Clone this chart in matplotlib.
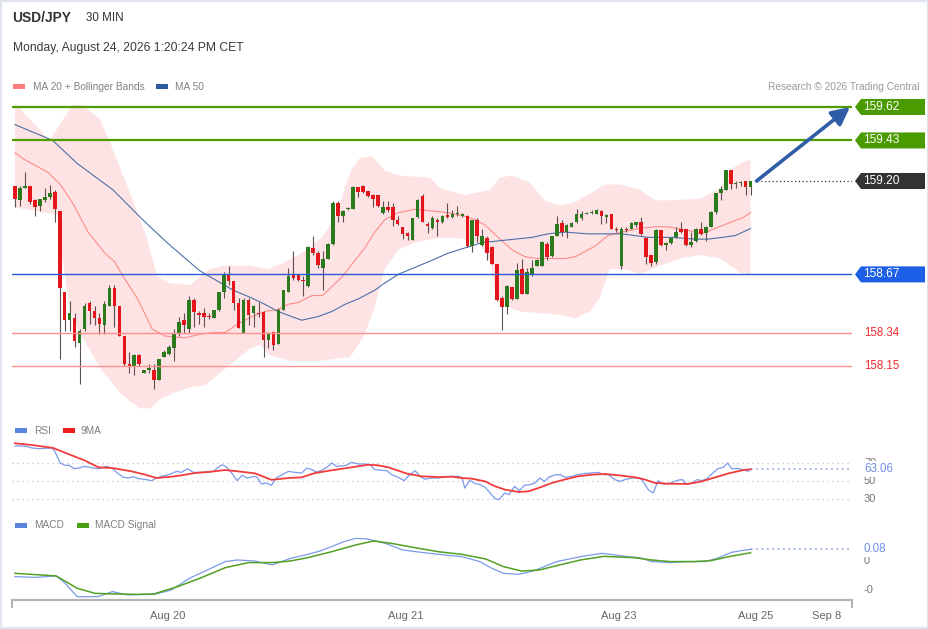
import matplotlib
matplotlib.use("Agg")
import matplotlib.pyplot as plt
from matplotlib.patches import Polygon, Rectangle
import numpy as np

plt.rcParams['font.family'] = ['Liberation Sans', 'DejaVu Sans']

# ---------------- data ----------------
symbol = "USD/JPY"
timeframe = "30 MIN"
timestamp = "Monday, August 24, 2026 1:20:24 PM CET"

opens = [159.17, 159.09, 159.16, 159.17, 159.09, 159.06, 159.09, 159.11, 159.14, 159.03,
         158.57, 158.41, 158.42, 158.28, 158.36, 158.51, 158.46, 158.42, 158.38, 158.49,
         158.59, 158.49, 158.32, 158.16, 158.15, 158.21, 158.11, 158.13, 158.13, 158.07,
         158.20, 158.22, 158.25, 158.34, 158.41, 158.36, 158.525, 158.45, 158.45, 158.435,
         158.425, 158.47, 158.57, 158.675, 158.63, 158.505, 158.34, 158.525, 158.45, 158.45,
         158.455, 158.30, 158.345, 158.275, 158.47, 158.57, 158.665, 158.67, 158.64, 158.605,
         158.82, 158.79, 158.705, 158.76, 158.84, 159.075, 159.00, 159.04, 159.04, 159.165,
         159.17, 159.145, 159.12, 159.12, 159.02, 159.055, 159.05, 158.98, 158.94, 158.905,
         158.865, 158.995, 159.115, 158.955, 158.935, 158.98, 158.965, 159.005, 158.995, 159.01,
         159.00, 159.00, 158.83, 158.98, 158.835, 158.875, 158.825, 158.73, 158.535, 158.485,
         158.60, 158.53, 158.70, 158.56, 158.665, 158.715, 158.72, 158.84, 158.775, 158.89,
         158.96, 158.91, 158.94, 158.97, 158.99, 159.01, 159.02, 159.015, 159.03, 158.995,
         159.01, 158.93, 158.715, 158.93, 158.925, 158.95, 158.97, 158.875, 158.78, 158.74,
         158.92, 158.835, 158.85, 158.88, 158.93, 158.925, 158.835, 158.86, 158.93, 158.905,
         158.94, 159.025, 159.13, 159.15, 159.26, 159.185, 159.19, 159.20, 159.165]
highs = [159.17, 159.17, 159.25, 159.17, 159.10, 159.10, 159.16, 159.18, 159.15, 159.03,
         158.57, 158.52, 158.45, 158.36, 158.51, 158.52, 158.49, 158.45, 158.52, 158.61,
         158.61, 158.49, 158.32, 158.23, 158.22, 158.22, 158.13, 158.16, 158.16, 158.19,
         158.24, 158.27, 158.36, 158.43, 158.45, 158.55, 158.535, 158.46, 158.48, 158.45,
         158.47, 158.57, 158.685, 158.72, 158.63, 158.535, 158.535, 158.535, 158.495, 158.515,
         158.46, 158.345, 158.345, 158.48, 158.58, 158.705, 158.80, 158.675, 158.66, 158.83,
         158.885, 158.80, 158.80, 158.85, 159.085, 159.085, 159.035, 159.05, 159.17, 159.165,
         159.18, 159.145, 159.125, 159.12, 159.085, 159.085, 159.075, 159.00, 158.94, 158.91,
         158.99, 159.095, 159.125, 158.97, 159.00, 158.99, 159.005, 159.075, 159.035, 159.06,
         159.02, 159.005, 158.98, 158.99, 158.925, 158.885, 158.83, 158.73, 158.545, 158.61,
         158.60, 158.735, 158.76, 158.705, 158.75, 158.755, 158.86, 158.855, 158.89, 159.00,
         158.98, 158.955, 158.965, 159.04, 159.03, 159.025, 159.035, 159.04, 159.035, 159.015,
         159.015, 158.94, 158.94, 158.94, 158.965, 158.97, 158.995, 158.875, 158.78, 158.925,
         158.92, 158.855, 158.875, 158.94, 158.97, 158.925, 158.91, 158.935, 158.97, 158.945,
         159.03, 159.13, 159.17, 159.265, 159.265, 159.20, 159.20, 159.20, 159.20]
lows = [159.05, 159.06, 159.16, 159.07, 159.00, 159.03, 159.08, 159.10, 158.97, 158.19,
        158.35, 158.35, 158.26, 158.05, 158.35, 158.39, 158.38, 158.33, 158.33, 158.49,
        158.37, 158.32, 158.15, 158.11, 158.10, 158.15, 158.11, 158.11, 158.02, 158.07,
        158.20, 158.21, 158.18, 158.32, 158.34, 158.34, 158.37, 158.39, 158.37, 158.415,
        158.42, 158.46, 158.535, 158.61, 158.47, 158.365, 158.34, 158.38, 158.37, 158.43,
        158.20, 158.25, 158.24, 158.275, 158.47, 158.57, 158.64, 158.63, 158.545, 158.60,
        158.78, 158.705, 158.58, 158.755, 158.835, 158.97, 158.97, 159.035, 159.04, 159.11,
        159.13, 159.11, 159.055, 159.055, 159.015, 159.025, 158.945, 158.95, 158.87, 158.865,
        158.865, 158.99, 158.97, 158.905, 158.925, 158.885, 158.96, 158.99, 158.99, 159.00,
        158.995, 158.825, 158.795, 158.855, 158.83, 158.75, 158.73, 158.52, 158.355, 158.445,
        158.525, 158.53, 158.56, 158.56, 158.66, 158.715, 158.72, 158.75, 158.77, 158.885,
        158.885, 158.875, 158.94, 158.96, 158.98, 159.01, 159.015, 159.01, 158.955, 158.96,
        158.93, 158.91, 158.70, 158.91, 158.925, 158.94, 158.895, 158.73, 158.715, 158.73,
        158.83, 158.81, 158.845, 158.875, 158.905, 158.83, 158.825, 158.855, 158.895, 158.86,
        158.94, 159.015, 159.09, 159.15, 159.155, 159.16, 159.17, 159.12, 159.12]
closes = [159.10, 159.16, 159.17, 159.08, 159.05, 159.10, 159.11, 159.13, 159.04, 158.59,
          158.41, 158.45, 158.29, 158.35, 158.49, 158.46, 158.42, 158.39, 158.50, 158.59,
          158.49, 158.32, 158.16, 158.15, 158.21, 158.16, 158.13, 158.13, 158.07, 158.19,
          158.23, 158.26, 158.34, 158.40, 158.38, 158.525, 158.455, 158.44, 158.43, 158.43,
          158.47, 158.57, 158.675, 158.63, 158.505, 158.365, 158.525, 158.44, 158.49, 158.445,
          158.30, 158.34, 158.27, 158.47, 158.58, 158.66, 158.65, 158.64, 158.63, 158.825,
          158.79, 158.725, 158.755, 158.845, 159.075, 159.00, 159.03, 159.045, 159.165, 159.135,
          159.14, 159.115, 159.10, 159.06, 159.05, 159.035, 158.98, 158.955, 158.90, 158.89,
          158.99, 159.09, 158.97, 158.945, 158.99, 158.965, 159.00, 158.995, 159.01, 159.015,
          159.015, 158.83, 158.98, 158.885, 158.885, 158.79, 158.73, 158.525, 158.485, 158.605,
          158.53, 158.695, 158.56, 158.685, 158.705, 158.75, 158.855, 158.77, 158.885, 158.955,
          158.91, 158.95, 158.96, 159.015, 159.01, 159.02, 159.02, 159.035, 159.00, 159.005,
          158.93, 158.92, 158.93, 158.92, 158.96, 158.965, 158.90, 158.77, 158.735, 158.92,
          158.835, 158.85, 158.875, 158.91, 158.91, 158.835, 158.855, 158.93, 158.90, 158.94,
          159.025, 159.13, 159.155, 159.26, 159.185, 159.185, 159.195, 159.165, 159.20]

bb_up_x = [0, 7.0, 11.5, 13.7, 17.1, 19.1, 21.1, 23.7, 26.6, 28.6,
           31.2, 35.2, 39.2, 42.3, 47.3, 50.9, 54.3, 57.7, 61.8, 65.0,
           66.4, 67.8, 69.4, 71.8, 74.4, 77.5, 83.5, 85.5, 90.5, 95.6,
           97.6, 100.0, 103.6, 106.6, 109.7, 112.7, 115.7, 118.7, 121.7, 125.8,
           128.8, 131.8, 137.8, 141.9, 143.9, 145.9, 148]
bb_up = [159.64, 159.43, 159.63, 159.63, 159.55, 159.42, 159.28, 159.09, 158.87, 158.66,
         158.62, 158.61, 158.70, 158.72, 158.72, 158.70, 158.74, 158.79, 158.88, 159.02,
         159.17, 159.27, 159.33, 159.34, 159.26, 159.23, 159.22, 159.16, 159.12, 159.15,
         159.22, 159.23, 159.19, 159.09, 159.06, 159.08, 159.13, 159.18, 159.18, 159.15,
         159.09, 159.09, 159.10, 159.16, 159.26, 159.30, 159.32]
bb_lo_x = [0, 8.5, 9.5, 11.1, 13.1, 15.1, 17.1, 19.1, 21.1, 23.1,
           25.2, 27.2, 29.2, 32.2, 35.2, 38.2, 41.2, 44.3, 47.3, 49.3,
           51.3, 55.3, 61.4, 67.4, 70.4, 72.4, 74.4, 77.1, 80.5, 83.9,
           87.1, 90.5, 93.6, 95.6, 96.6, 97.6, 101.6, 109.7, 112.7, 115.7,
           117.7, 119.7, 122.7, 125.8, 129.8, 133.8, 137.8, 141.9, 145.9, 148]
bb_lo = [159.05, 159.01, 158.76, 158.47, 158.33, 158.24, 158.14, 158.07, 158.00, 157.95,
         157.91, 157.91, 157.96, 158.00, 158.03, 158.04, 158.11, 158.18, 158.25, 158.27,
         158.21, 158.18, 158.18, 158.20, 158.33, 158.49, 158.70, 158.81, 158.85, 158.87,
         158.88, 158.87, 158.84, 158.75, 158.55, 158.50, 158.46, 158.44, 158.42, 158.46,
         158.54, 158.70, 158.70, 158.67, 158.72, 158.76, 158.78, 158.76, 158.68, 158.67]
ma20_x = [0, 2.0, 6.6, 9.1, 11.5, 14.7, 18.1, 20.1, 21.5, 24.7,
          27.6, 30.2, 34.2, 37.2, 39.8, 42.3, 44.9, 47.7, 50.3, 52.9,
          54.9, 56.9, 59.8, 61.8, 63.0, 65.8, 68.4, 70.4, 72.4, 74.4,
          77.1, 80.5, 83.9, 87.1, 90.5, 92.6, 94.6, 97.2, 100.0, 102.6,
          105.2, 110.7, 112.7, 116.7, 119.3, 122.1, 125.4, 128.8, 131.4, 135.4,
          138.2, 140.8, 143.5, 146.3, 148]
ma20 = [159.36, 159.32, 159.25, 159.18, 159.08, 158.91, 158.79, 158.74, 158.67, 158.53,
        158.36, 158.32, 158.31, 158.33, 158.34, 158.34, 158.39, 158.43, 158.46, 158.47,
        158.50, 158.51, 158.55, 158.55, 158.58, 158.655, 158.75, 158.82, 158.91, 158.98,
        159.02, 159.04, 159.03, 159.02, 159.00, 158.98, 158.95, 158.88, 158.81, 158.77,
        158.76, 158.76, 158.77, 158.83, 158.89, 158.91, 158.93, 158.94, 158.94, 158.92,
        158.90, 158.93, 158.96, 158.99, 159.02]
ma50_x = [0, 7.6, 12.5, 19.7, 25.7, 30.6, 37.2, 43.9, 47.3, 50.3,
          52.9, 55.7, 57.7, 60.9, 63.8, 66.4, 69.0, 72.4, 73.8, 77.1,
          80.5, 83.9, 87.1, 90.5, 93.9, 97.2, 100.6, 104.0, 107.2, 110.7,
          115.3, 122.1, 127.4, 132.2, 136.8, 139.4, 142.3, 144.9, 148]
ma50 = [159.52, 159.43, 159.30, 159.15, 158.98, 158.85, 158.69, 158.58, 158.54, 158.50,
        158.46, 158.43, 158.41, 158.43, 158.46, 158.50, 158.53, 158.58, 158.61, 158.67,
        158.71, 158.75, 158.79, 158.82, 158.85, 158.86, 158.87, 158.88, 158.90, 158.91,
        158.90, 158.90, 158.88, 158.88, 158.87, 158.87, 158.88, 158.89, 158.93]

resistance = [159.62, 159.43]
pivot = 158.67
support = [158.34, 158.15]

rsi_x = [0, 2, 3.4, 4.7, 7.4, 8, 9.1, 10.1, 10.9, 11.9,
         12.9, 13.9, 15.1, 16.4, 17.4, 18.4, 19.5, 20.6, 21.8, 22.8,
         23.8, 24.8, 26.2, 27.5, 28.5, 29.5, 30.9, 32.5, 33.5, 34.7,
         35.9, 37.6, 38.9, 39.9, 40.9, 41.7, 42.6, 43.6, 44.7, 45.7,
         46.7, 47.8, 48.6, 49.6, 50.6, 51.6, 52.6, 53.7, 55, 56.3,
         57.7, 58.7, 59.7, 60.7, 62, 63, 63.7, 64.7, 65.7, 66.7,
         67.7, 69.1, 70.4, 71.4, 72.4, 73.8, 74.8, 75.8, 77.1, 78.3,
         79.1, 80.5, 81.5, 82.5, 83.8, 85.2, 86.5, 87.9, 89.2, 89.9,
         90.5, 91.5, 92.6, 93.6, 94.6, 95.6, 96.6, 97.4, 98.5, 99.4,
         100.5, 101.5, 102.5, 103.6, 104.6, 105.6, 106.5, 107.4, 108.7, 109.7,
         110.7, 112, 113.3, 114.7, 116, 117.4, 118.4, 119.4, 120.7, 121.7,
         122.7, 124.1, 125.8, 126.8, 127.4, 128.4, 129.4, 130.4, 131.4, 132.4,
         133.5, 134.3, 135.1, 136.2, 137.2, 138.2, 139.2, 140.2, 141.4, 142.5,
         143.4, 144.2, 145.5, 146.5, 147.5, 148]
rsi = [88.9, 88.9, 86.7, 85.9, 86.7, 83.0, 70.0, 67.4, 67.4, 63.7,
       64.4, 66.3, 65.2, 63.7, 64.4, 66.3, 64.4, 58.9, 54.1, 53.3,
       54.8, 52.6, 51.8, 50.4, 53.3, 55.2, 57.0, 60.7, 59.6, 63.7,
       59.6, 59.6, 60.0, 60.7, 65.2, 68.1, 65.2, 58.9, 50.4, 56.3,
       53.3, 54.8, 54.8, 46.7, 47.8, 45.2, 53.3, 57.0, 60.7, 59.6,
       58.9, 64.4, 62.6, 60.0, 62.6, 66.3, 70.0, 66.3, 66.7, 67.4,
       70.7, 68.9, 68.9, 68.1, 62.6, 61.9, 61.5, 57.0, 54.1, 50.4,
       55.2, 61.5, 55.2, 52.0, 53.3, 53.3, 54.4, 55.2, 55.2, 54.1,
       42.2, 50.7, 47.0, 45.9, 43.0, 36.7, 30.4, 29.3, 36.7, 34.8,
       44.1, 39.3, 45.2, 45.9, 47.8, 53.3, 49.6, 54.1, 57.0, 57.0,
       54.1, 55.2, 57.0, 58.5, 58.9, 59.6, 57.0, 57.0, 51.5, 49.6,
       51.5, 53.3, 53.3, 45.9, 40.4, 36.7, 50.4, 46.7, 46.7, 48.9,
       51.1, 51.5, 46.7, 47.8, 51.5, 50.4, 52.6, 57.8, 63.7, 65.2,
       70.0, 63.7, 63.7, 62.6, 60.7, 63.06]
rsi_ma_x = [0, 3.4, 7.7, 11.4, 14.1, 16.8, 19.5, 20.8, 23.5, 26.2,
            28.5, 31.5, 33.5, 36.2, 38.9, 42.3, 44.9, 48.3, 51.6, 55.0,
            57.7, 60.4, 63.7, 67.7, 71.1, 73.1, 75.1, 77.1, 79.1, 81.8,
            85.2, 87.9, 89.9, 91.9, 94.6, 96.6, 98.6, 101.3, 103.3, 105.3,
            108.0, 110.7, 113.3, 116.0, 118.7, 121.5, 124.8, 126.8, 128.8, 131.4,
            135.4, 138.2, 140.9, 143.6, 146.3, 148]
rsi_ma = [91.9, 90.0, 86.7, 78.5, 72.6, 65.2, 64.4, 63.3, 60.7, 57.0,
          53.3, 54.8, 56.3, 58.9, 60.0, 62.2, 60.7, 58.5, 51.3, 53.3,
          54.1, 58.9, 61.9, 65.2, 68.1, 67.4, 65.2, 61.5, 57.8, 55.2,
          54.4, 54.8, 53.3, 52.6, 49.6, 44.1, 40.4, 37.8, 38.5, 42.2,
          47.8, 51.8, 55.2, 57.0, 57.8, 56.3, 54.1, 51.5, 47.8, 47.0,
          46.7, 49.6, 54.1, 58.5, 61.9, 63.06]
rsi_levels = [70, 50, 30]

macd_x = [0, 4.1, 8.3, 10.1, 12.5, 16.7, 19.6, 22.6, 28.0, 31.5,
          35.1, 38.7, 42.3, 44.7, 48.2, 51.8, 55.4, 58.9, 61.4, 63.7,
          66.1, 68.5, 70.9, 74.5, 78.0, 81.6, 85.2, 89.9, 93.5, 95.9,
          98.3, 101.3, 104.3, 109.0, 113.8, 118.0, 119.8, 123.3, 125.7, 128.1,
          131.7, 135.3, 138.8, 141.2, 144.2, 146.0, 148]
macd = [-0.108, -0.113, -0.103, -0.154, -0.246, -0.246, -0.211, -0.234, -0.230, -0.200,
        -0.119, -0.062, -0.004, 0.007, 0.0, -0.027, 0.018, 0.046, 0.069, 0.099,
        0.133, 0.156, 0.152, 0.122, 0.076, 0.060, 0.046, 0.030, -0.004, -0.050,
        -0.085, -0.092, -0.069, -0.004, 0.030, 0.053, 0.046, 0.030, 0.023, -0.004,
        -0.011, -0.004, -0.004, 0.018, 0.060, 0.071, 0.08]
signal_x = [0, 8.3, 12.5, 16.1, 19.6, 24.4, 28.0, 32.7, 37.5, 42.3,
            47.0, 51.8, 55.4, 58.9, 63.7, 68.5, 72.1, 75.7, 80.4, 85.2,
            89.9, 94.7, 98.3, 101.9, 105.5, 109.0, 113.8, 118.5, 124.5, 128.1,
            131.7, 136.5, 140.0, 143.6, 148]
signal = [-0.085, -0.103, -0.188, -0.223, -0.227, -0.230, -0.227, -0.177, -0.115, -0.046,
          -0.011, -0.011, 0.0, 0.023, 0.064, 0.110, 0.138, 0.122, 0.092, 0.064,
          0.046, 0.014, -0.039, -0.069, -0.062, -0.032, 0.007, 0.032, 0.023, 0.007,
          -0.004, -0.004, 0.002, 0.030, 0.057]
macd_ticks = [0, -0.2]

tick_pos = [30.8, 78.7, 121.5, 149.1, 163.2]
tick_labels = ["Aug 20", "Aug 21", "Aug 23", "Aug 25", "Sep 8"]

# ---------------- figure ----------------
W, H = 929, 629
fig = plt.figure(figsize=(W / 100, H / 100), dpi=100)
fig.patch.set_facecolor('white')


def fr(x0, y0, w, h):
    return [x0 / W, 1 - (y0 + h) / H, w / W, h / H]


XL = (-0.6, 168.4)
GREEN_LVL = '#4f9d00'
BLUE_LINE = '#7b9ae8'

# main price panel
ax = fig.add_axes(fr(12, 95, 840, 320))
ax.set_xlim(*XL)
ax.set_ylim(157.872, 159.688)
ax.axis('off')

ax.fill(list(bb_up_x) + list(bb_lo_x[::-1]), list(bb_up) + list(bb_lo[::-1]),
        color='#fde3e3', lw=0, zorder=0)
ax.plot(ma20_x, ma20, color='#ff8c8c', lw=0.8, zorder=1)
ax.plot(ma50_x, ma50, color='#4d70a8', lw=0.8, zorder=1)

idx = np.arange(len(closes))
o = np.array(opens); c = np.array(closes); hi = np.array(highs); lo = np.array(lows)
up = c >= o
ax.vlines(idx, lo, hi, color='#5e5050', lw=0.8, zorder=2)
body = np.maximum(np.abs(c - o), 0.006)
bot = np.minimum(o, c)
ax.bar(idx[up], body[up], 0.72, bot[up], color='#2b7a1e', lw=0, zorder=3)
ax.bar(idx[~up], body[~up], 0.72, bot[~up], color='#e3151a', lw=0, zorder=3)

for lv in resistance:
    ax.axhline(lv, color=GREEN_LVL, lw=1.6, zorder=4)
ax.axhline(pivot, color='#2a5bd7', lw=1.0, zorder=4)
for lv in support:
    ax.axhline(lv, color='#ff9090', lw=1.0, zorder=4)
last_i = len(closes) - 1
ax.plot([last_i + 1.2, XL[1]], [closes[-1]] * 2, color='#333333', lw=0.9,
        ls=(0, (1, 2)), zorder=4)
ax.annotate('', xy=(168.0, resistance[0]), xytext=(last_i + 1.2, closes[-1]),
            arrowprops=dict(arrowstyle='-|>,head_length=0.9,head_width=0.45',
                            color='#2f5ea6', lw=2.6, shrinkA=0, shrinkB=0,
                            mutation_scale=12),
            zorder=6, annotation_clip=False)

# RSI panel
rx = fig.add_axes(fr(12, 440, 840, 68))
rx.set_xlim(*XL)
rx.set_ylim(20, 95.56)
rx.axis('off')
for g in rsi_levels:
    rx.axhline(g, color='#c4c4c4', lw=0.9, ls=(0, (1, 3)), zorder=0)
rx.plot(rsi_x, rsi, color=BLUE_LINE, lw=0.9, zorder=2)
rx.plot(rsi_ma_x, rsi_ma, color='#f23c3c', lw=1.3, zorder=3)
rx.plot([rsi_x[-1], XL[1]], [rsi[-1]] * 2, color=BLUE_LINE, lw=1.1,
        ls=(0, (1, 2.5)), zorder=1)

# MACD panel
mx = fig.add_axes(fr(12, 535, 840, 65))
mx.set_xlim(*XL)
mx.set_ylim(-0.269, 0.1793)
mx.patch.set_alpha(0)
for s in ['top', 'right', 'left']:
    mx.spines[s].set_visible(False)
mx.spines['bottom'].set_color('#b4b4b4')
mx.spines['bottom'].set_linewidth(1.6)
mx.set_yticks([])
mx.set_xticks(tick_pos)
mx.set_xticklabels(tick_labels)
mx.tick_params(axis='x', which='major', length=0, pad=8, labelsize=8,
               labelcolor='#666666')
mx.set_xticks(list(XL), minor=True)
mx.tick_params(axis='x', which='minor', length=6, width=1.5, color='#b4b4b4')
mx.plot(macd_x, macd, color=BLUE_LINE, lw=0.9, zorder=2)
mx.plot(signal_x, signal, color='#52a024', lw=1.1, zorder=3)
mx.plot([macd_x[-1], XL[1]], [macd[-1]] * 2, color=BLUE_LINE, lw=1.1,
        ls=(0, (1, 2.5)), zorder=1)

# overlay in pixel coordinates (y from top)
ov = fig.add_axes([0, 0, 1, 1])
ov.set_xlim(0, W)
ov.set_ylim(H, 0)
ov.axis('off')
ov.patch.set_alpha(0)


def py(axis, v):
    return H - axis.transData.transform((0, v))[1]


def tag(yp, txt, color):
    pts = [(855, yp), (861, yp - 8), (925, yp - 8), (925, yp + 8), (861, yp + 8)]
    ov.add_patch(Polygon(pts, closed=True, fc=color, ec='none', zorder=10))
    ov.text(863, yp, txt, color='white', fontsize=8.6, va='center', ha='left', zorder=11)


for lv in resistance:
    tag(py(ax, lv), f"{lv:.2f}", '#4a9b00')
tag(py(ax, closes[-1]), f"{closes[-1]:.2f}", '#333333')
tag(py(ax, pivot), f"{pivot:.2f}", '#1d5fe6')
for lv in support:
    ov.text(864, py(ax, lv), f"{lv:.2f}", color='#ee2b2b', fontsize=8.3, va='center')

for g in rsi_levels:
    ov.text(864, py(rx, g), f"{g}", color='#777777', fontsize=8, va='center')
ov.text(864, py(rx, rsi[-1]), f"{rsi[-1]:.2f}", color='#6d8fe6', fontsize=8.3,
        va='center', zorder=12,
        bbox=dict(fc='white', ec='none', pad=1.5))
for v in macd_ticks:
    ov.text(864, py(mx, v), f"{v:.0f}", color='#777777', fontsize=8, va='center')
ov.text(864, py(mx, macd[-1]), f"{macd[-1]:.2f}", color='#6d8fe6', fontsize=8.3,
        va='center', zorder=12, bbox=dict(fc='white', ec='none', pad=1.0))

# header
ov.text(12, 18, symbol, fontsize=9.9, fontweight='bold', color='#333333', va='center')
ov.text(86, 18, timeframe, fontsize=8.4, color='#333333', va='center')
ov.text(13, 48, timestamp, fontsize=8.7, color='#3a3a3a', va='center')

# legends
ov.add_patch(Rectangle((13, 84), 12, 5, fc='#ff7b7b', ec='none'))
ov.text(33, 86.5, "MA 20 + Bollinger Bands", fontsize=7.3, color='#808080', va='center')
ov.add_patch(Rectangle((156, 84), 12, 5, fc='#2c5a9c', ec='none'))
ov.text(175, 86.5, "MA 50", fontsize=7.3, color='#808080', va='center')
ov.text(920, 86.5, "Research \u00a9 2026 Trading Central", fontsize=7.3,
        color='#9a9a9a', va='center', ha='right')

ov.add_patch(Rectangle((15, 428), 12, 5, fc='#5b84e0', ec='none'))
ov.text(34, 430.5, "RSI", fontsize=7.3, color='#808080', va='center')
ov.add_patch(Rectangle((63, 428), 12, 5, fc='#f21d1d', ec='none'))
ov.text(81, 430.5, "9MA", fontsize=7.3, color='#808080', va='center')

ov.add_patch(Rectangle((15, 523), 12, 5, fc='#5b84e0', ec='none'))
ov.text(34, 525.5, "MACD", fontsize=7.3, color='#808080', va='center')
ov.add_patch(Rectangle((77, 523), 12, 5, fc='#4a9e12', ec='none'))
ov.text(95, 525.5, "MACD Signal", fontsize=7.3, color='#808080', va='center')

# outer border
ov.add_patch(Rectangle((0.75, 0.75), W - 1.5, H - 1.5, fill=False, ec='#dfe5ec', lw=1.5))

fig.savefig('out.png', dpi=100)
